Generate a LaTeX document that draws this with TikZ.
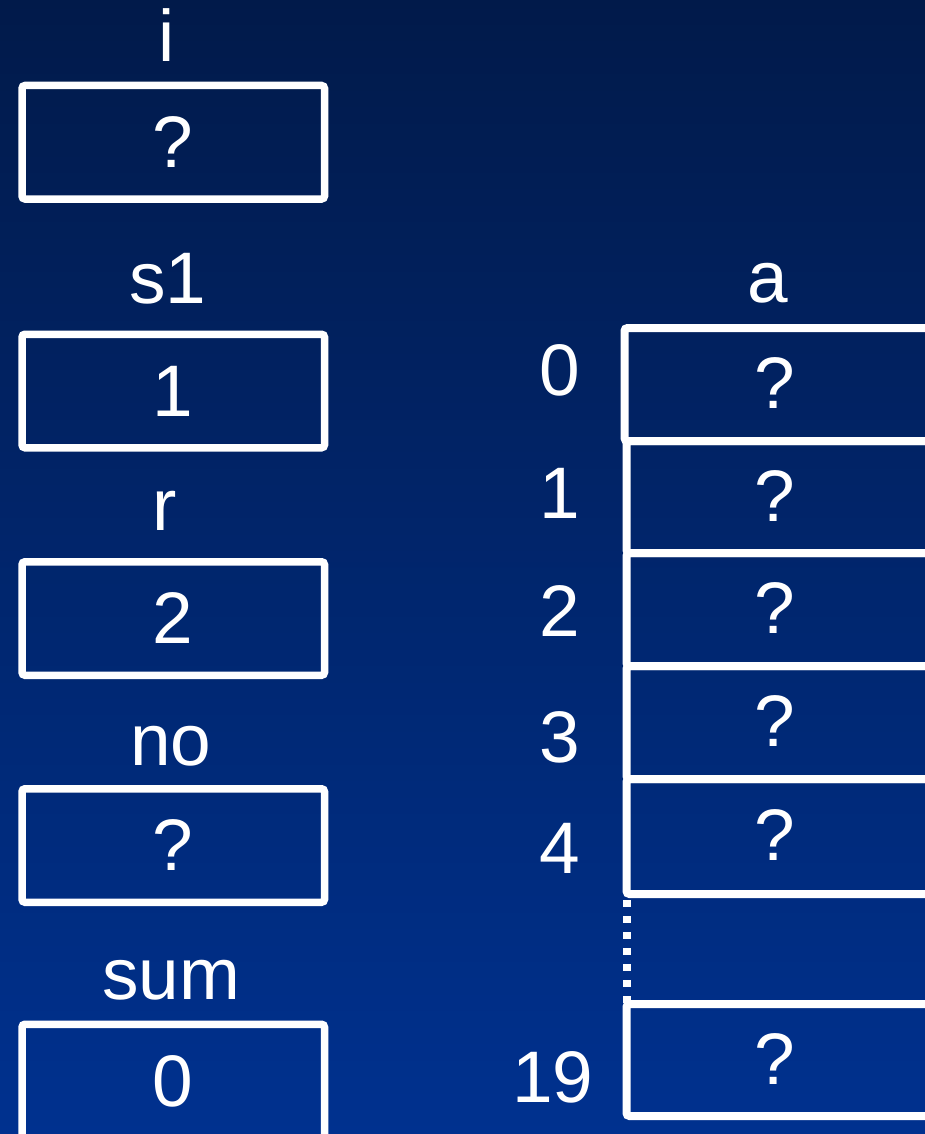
\documentclass[tikz,border=0pt]{standalone}
\usepackage{fontspec}
\setmainfont{Liberation Sans}
\definecolor{bgtop}{RGB}{1,26,74}
\definecolor{bgbot}{RGB}{0,49,143}
\begin{document}
\begin{tikzpicture}[x=1pt,y=-1pt,
  txt/.style={text=white, font=\fontsize{73}{88}\selectfont, inner sep=0pt, outer sep=0pt},
  varbox/.style={txt, draw=white, line width=7.5pt, rounded corners=3pt, minimum width=302.5pt, minimum height=113.5pt},
  cellbox/.style={draw=white, line width=8pt, rounded corners=3pt, inner sep=0pt, outer sep=0pt},
  lbl/.style={txt, anchor=base},
  dotline/.style={draw=white, line width=8pt, dash pattern=on 7pt off 9pt, dash phase=10pt}
]
\useasboundingbox (0,0) rectangle (925,1134);
\shade[top color=bgtop, bottom color=bgbot] (0,0) rectangle (925,1134);

% scalar variables
\node[lbl] (li) at (167,62) {i};
\node[varbox] (bi) at (173.25,142.25) {?};
\node[lbl] (ls1) at (168,303) {s1};
\node[varbox] (bs1) at (173.25,391) {1};
\node[lbl] (lr) at (165,530) {r};
\node[varbox] (br) at (173.25,618.5) {2};
\node[lbl] (lno) at (171,765) {no};
\node[varbox] (bno) at (173.25,845.5) {?};
\node[lbl] (lsum) at (171,999) {sum};
\node[varbox] (bsum) at (173.25,1081) {0};

% array a
\node[lbl] (la) at (768,302) {a};
\node[cellbox, minimum width=318.5pt, minimum height=112pt] (c1) at (785.75,497) {};
\node[cellbox, minimum width=318.5pt, minimum height=113pt] (c2) at (785.75,609.5) {};
\node[cellbox, minimum width=318.5pt, minimum height=113pt] (c3) at (785.75,722.5) {};
\node[cellbox, minimum width=318.5pt, minimum height=115pt] (c4) at (785.75,836.5) {};
\node[cellbox, minimum width=318.5pt, minimum height=112pt] (c19) at (785.75,1060) {};
\node[cellbox, minimum width=320.5pt, minimum height=113pt] (c0) at (784.75,384.5) {};
\draw[dotline] (c4.south west) -- (c19.north west);

\node[txt] (v0) at (775,383) {?};
\node[txt] (v1) at (775,496) {?};
\node[txt] (v2) at (775,608.5) {?};
\node[txt] (v3) at (775,721.5) {?};
\node[txt] (v4) at (775,835) {?};
\node[txt] (v19) at (775,1058.5) {?};

\node[lbl] (i0) at (560,395) {0};
\node[lbl] (i1) at (560,518) {1};
\node[lbl] (i2) at (560,636) {2};
\node[lbl] (i3) at (560,762) {3};
\node[lbl] (i4) at (560,873) {4};
\node[lbl] (i19) at (553,1102) {19};
\end{tikzpicture}
\end{document}
